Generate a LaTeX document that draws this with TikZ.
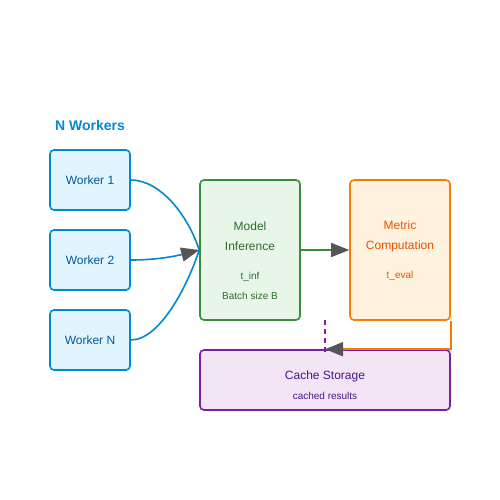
\documentclass[tikz,border=0pt]{standalone}
\usepackage{fontspec}
\setmainfont{Liberation Sans}
\usetikzlibrary{arrows.meta,positioning}

\definecolor{workerline}{HTML}{0288D1}
\definecolor{workerfill}{HTML}{E1F5FE}
\definecolor{workertext}{HTML}{01579B}
\definecolor{inferline}{HTML}{388E3C}
\definecolor{inferfill}{HTML}{E8F5E9}
\definecolor{infertext}{HTML}{2E6B30}
\definecolor{metricline}{HTML}{F57C00}
\definecolor{metricfill}{HTML}{FFF3E0}
\definecolor{metrictext}{HTML}{E65100}
\definecolor{cacheline}{HTML}{7B1FA2}
\definecolor{cachefill}{HTML}{F3E5F5}
\definecolor{cachetext}{HTML}{4A148C}
\definecolor{tipgray}{HTML}{555555}

\begin{document}
\begin{tikzpicture}[x=1pt,y=-1pt,
  box/.style={draw, rounded corners=4pt, line width=1.6pt, inner sep=0pt},
  workerbox/.style={box, draw=workerline, fill=workerfill, text=workertext,
    minimum width=80pt, minimum height=60pt, font=\fontsize{12}{14}\selectfont},
  stagebox/.style={box, minimum width=100pt, minimum height=140pt},
  title/.style={align=center, font=\fontsize{12}{20}\selectfont},
  small/.style={align=center, font=\fontsize{10}{20}\selectfont},
  link/.style={line width=1.6pt},
  tip/.style={-{Triangle[length=18pt,width=14pt,color=tipgray]}}
]
\useasboundingbox[fill=white] (0,0) rectangle (500,500);

% workers
\node[text=workerline, font=\bfseries\fontsize{14}{16}\selectfont] (ntitle) at (90,125) {N Workers};
\node[workerbox] (w1) at (90,180) {Worker 1};
\node[workerbox] (w2) at (90,260) {Worker 2};
\node[workerbox] (wn) at (90,340) {Worker N};

% stages
\node[stagebox, draw=inferline, fill=inferfill] (infer) at (250,250) {};
\node[title, text=infertext] (infer-t) at (250,236) {Model\\Inference};
\node[small, text=infertext] (infer-s) at (250,286) {t\_inf\\Batch size B};

\node[stagebox, draw=metricline, fill=metricfill] (metric) at (400,250) {};
\node[title, text=metrictext] (metric-t) at (400,236) {Metric\\Computation};
\node[small, text=metrictext] (metric-s) at (400,276) {t\_eval};

\node[box, draw=cacheline, fill=cachefill, minimum width=250pt, minimum height=60pt] (cache) at (325,380) {};
\node[text=cachetext, font=\fontsize{12}{14}\selectfont] (cache-t) at (325,376) {Cache Storage};
\node[text=cachetext, font=\fontsize{10}{12}\selectfont] (cache-s) at (325,396) {cached results};

% connectors
\draw[link, workerline] (w1.east) .. controls (160,180) and (188,215) .. (infer.west);
\draw[link, workerline] (wn.east) .. controls (160,340) and (188,285) .. (infer.west);
\draw[link, workerline, tip] (w2.east) .. controls (160,260) and (180,255) .. (infer.west);
\draw[link, inferline, tip] (infer.east) -- (metric.west);
\draw[link, metricline, tip] (metric.south east) -- (cache.north east) -- (cache.north);
\coordinate (hint) at (325,320);
\draw[link, cacheline, dashed, dash pattern=on 5pt off 4pt] (hint) -- ([yshift=-3pt]cache.north);

\end{tikzpicture}
\end{document}
